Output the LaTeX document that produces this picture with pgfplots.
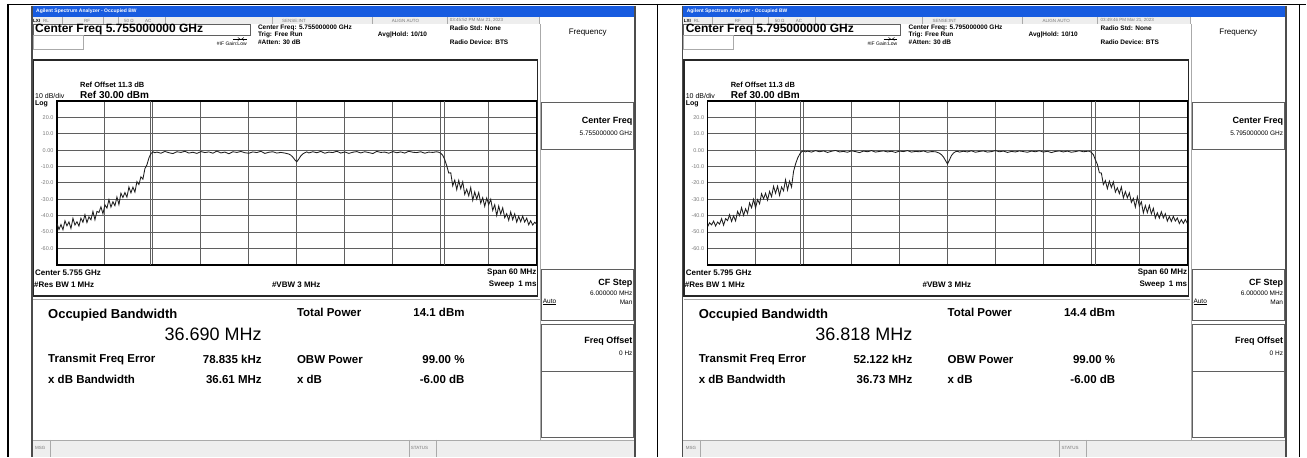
\documentclass[border=0pt]{standalone}
\usepackage{pgfplots}
\pgfplotsset{compat=1.18}
\usepackage{pgfplotstable}
\usepackage{fontspec}
\setmainfont{Liberation Sans}

\definecolor{winblue}{RGB}{24,92,224}
\definecolor{panelgray}{RGB}{238,238,238}
\definecolor{sepgray}{RGB}{170,170,170}
\definecolor{txtgray}{RGB}{120,120,120}
\definecolor{gridc}{RGB}{95,95,95}
\definecolor{tracec}{RGB}{30,30,30}

\newcommand{\fs}[1]{\fontsize{#1}{#1}\selectfont}

% f = offset from centre (MHz), L = 5.755 GHz trace, R = 5.795 GHz trace (dBm)
\pgfplotstableread{
f L R
-30.00 -44.7 -46.7
-29.75 -48.4 -44.3
-29.50 -45.4 -45.6
-29.25 -48.6 -43.3
-29.00 -43.1 -46.3
-28.75 -46.2 -43.9
-28.50 -43.8 -45.1
-28.25 -47.8 -41.8
-28.00 -41.6 -45.8
-27.75 -45.7 -41.8
-27.50 -43.7 -43.0
-27.25 -46.3 -39.4
-27.00 -41.5 -43.5
-26.75 -44.0 -40.1
-26.50 -39.4 -43.2
-26.25 -44.2 -37.4
-26.00 -40.7 -40.0
-25.75 -42.5 -35.1
-25.50 -37.4 -39.8
-25.25 -42.5 -35.8
-25.00 -37.4 -38.6
-24.75 -38.0 -32.2
-24.50 -34.6 -35.2
-24.25 -38.8 -30.0
-24.00 -33.4 -35.3
-23.75 -35.4 -30.2
-23.50 -30.2 -32.7
-23.25 -34.8 -26.6
-23.00 -31.5 -29.7
-22.75 -33.9 -26.3
-22.50 -28.6 -30.5
-22.25 -33.2 -25.2
-22.00 -26.3 -28.4
-21.75 -28.9 -22.1
-21.50 -25.9 -26.3
-21.25 -28.7 -22.0
-21.00 -22.5 -27.6
-20.75 -26.1 -22.5
-20.50 -22.6 -24.8
-20.25 -25.6 -18.1
-20.00 -19.2 -24.3
-19.75 -21.0 -18.9
-19.50 -16.3 -22.5
-19.25 -17.7 -13.0
-19.00 -11.3 -8.5
-18.75 -9.0 -5.0
-18.50 -4.8 -2.6
-18.25 -2.2 -1.0
-18.00 -1.0 -0.4
-17.75 -1.6 -1.1
-17.5 -1.2 -0.6
-17.0 -1.9 -1.2
-16.5 -0.8 -0.3
-16.0 -1.6 -1.0
-15.5 -2.1 -0.5
-15.0 -1.0 -1.4
-14.5 -1.4 -0.7
-14.0 -0.7 -0.2
-13.5 -1.8 -1.1
-13.0 -1.3 -0.8
-12.5 -2.0 -1.3
-12.0 -0.9 -0.4
-11.5 -1.5 -0.9
-11.0 -1.1 -1.5
-10.5 -1.9 -0.6
-10.0 -0.6 -1.0
-9.5 -1.7 -0.3
-9.0 -1.2 -1.2
-8.5 -2.2 -0.8
-8.0 -1.0 -0.5
-7.5 -1.4 -1.1
-7.0 -0.8 -0.7
-6.5 -1.6 -1.4
-6.0 -1.9 -0.6
-5.5 -1.1 -0.9
-5.0 -1.5 -0.3
-4.5 -0.7 -1.2
-4.0 -2.0 -0.8
-3.5 -1.3 -1.0
-3.0 -1.0 -0.5
-2.5 -1.8 -1.3
-2.0 -1.4 -0.9
-1.50 -1.8 -1.0
-1.25 -2.1 -1.4
-1.00 -2.4 -1.9
-0.75 -3.1 -2.8
-0.50 -4.3 -4.2
-0.25 -5.9 -6.3
0.00 -7.1 -8.4
0.25 -5.4 -6.0
0.50 -3.5 -3.3
0.75 -2.3 -1.8
1.00 -1.6 -1.0
1.25 -1.1 -0.7
1.50 -1.7 -1.2
2.0 -1.0 -0.7
2.5 -1.6 -1.1
3.0 -0.8 -0.4
3.5 -1.9 -1.3
4.0 -1.2 -0.8
4.5 -1.5 -0.5
5.0 -0.7 -1.2
5.5 -1.8 -0.9
6.0 -1.1 -0.3
6.5 -2.0 -1.0
7.0 -1.3 -0.6
7.5 -0.9 -1.4
8.0 -1.7 -0.8
8.5 -1.0 -1.1
9.0 -1.5 -0.5
9.5 -2.1 -0.9
10.0 -0.8 -1.3
10.5 -1.4 -0.6
11.0 -1.2 -1.0
11.5 -1.9 -0.4
12.0 -0.9 -1.2
12.5 -1.6 -0.7
13.0 -1.1 -1.5
13.5 -1.8 -0.8
14.0 -0.7 -0.5
14.5 -1.3 -1.1
15.0 -1.5 -0.6
15.5 -1.0 -1.3
16.0 -1.9 -0.9
16.5 -1.2 -0.4
17.0 -1.4 -1.0
17.5 -1.0 -0.7
17.75 -1.3 -0.7
18.00 -1.9 -1.4
18.25 -3.2 -2.8
18.50 -5.8 -5.9
18.75 -9.5 -8.7
19.00 -14.0 -13.8
19.25 -13.8 -14.0
19.50 -21.8 -21.0
19.75 -18.3 -18.6
20.00 -24.1 -23.5
20.25 -18.5 -18.9
20.50 -23.5 -22.8
20.75 -19.3 -19.4
21.00 -27.0 -25.6
21.25 -23.9 -23.0
21.50 -27.9 -26.5
21.75 -22.8 -22.5
22.00 -30.7 -29.2
22.25 -25.5 -25.3
22.50 -29.9 -29.1
22.75 -25.9 -26.1
23.00 -32.4 -31.9
23.25 -29.0 -29.4
23.50 -34.3 -34.8
23.75 -29.2 -28.5
24.00 -33.3 -34.2
24.25 -30.0 -31.6
24.50 -36.8 -38.3
24.75 -33.3 -33.8
25.00 -39.9 -38.1
25.25 -34.1 -33.7
25.50 -39.0 -38.9
25.75 -35.2 -35.5
26.00 -41.2 -41.5
26.25 -38.8 -38.2
26.50 -42.8 -41.5
26.75 -37.7 -37.6
27.00 -42.4 -41.4
27.25 -38.9 -38.8
27.50 -43.9 -43.3
27.75 -40.4 -40.5
28.00 -43.7 -43.5
28.25 -40.2 -40.4
28.50 -43.9 -43.3
28.75 -41.5 -41.4
29.00 -45.5 -44.8
29.25 -43.1 -42.4
29.50 -45.7 -44.7
29.75 -44.0 -42.3
30.00 -45.3 -44.7
}\spectra

% one analyzer screen
% #1 x offset, #2 centre freq, #3 short centre, #4 time, #5 total power,
% #6 OBW, #7 freq error, #8 x dB BW, #9 trace column; markers in \mkA \mkB
\newcommand{\analyzer}[9]{%
\begin{scope}[x=1pt,y=-1pt,shift={(#1,0)}]
  \fill[white] (31,6) rectangle (636,457);
  \fill[winblue] (31,6) rectangle (636,17);
  \node[anchor=west,inner sep=0,text=white,font=\fs{5}\bfseries] at (36,11.5) {Agilent Spectrum Analyzer - Occupied BW};
  % status row
  \fill[panelgray] (32,17) rectangle (540,24);
  \foreach \sx in {62,103,118,165,272,372,447,540} \draw[sepgray,line width=0.4pt] (\sx,17) -- (\sx,24);
  \begin{scope}[every node/.style={anchor=west,inner sep=0,text=txtgray,font=\fs{4.5}}]
    \node[text=black,font=\fs{4.5}\bfseries] at (33,20.5) {LXI};
    \node at (43,20.5) {RL};
    \node at (84,20.5) {RF};
    \node at (124,20.5) {50 Ω};
    \node at (145,20.5) {AC};
    \node at (282,20.5) {SENSE:INT};
    \node at (392,20.5) {ALIGN AUTO};
    \node at (450,20.5) {#4 PM Mar 21, 2023};
  \end{scope}
  % header
  \draw[gridc,line width=0.6pt] (33,24) rectangle (250,35);
  \draw[sepgray,line width=0.6pt] (33,35) rectangle (83,49);
  \node[anchor=west,inner sep=0,font=\fs{12}\bfseries] at (35,29.8) {Center Freq #2 GHz};
  \draw[black,line width=0.5pt] (233,39) -- (247,39);
  \draw[black,line width=0.5pt] (238,37.5) -- (240,39) -- (238,40.5);
  \draw[black,line width=0.5pt] (244,37.5) -- (242,39) -- (244,40.5);
  \node[anchor=east,inner sep=0,font=\fs{5}] at (247,44) {\#IF Gain:Low};
  \begin{scope}[every node/.style={anchor=west,inner sep=0,font=\fs{6.5}\bfseries}]
    \node at (258,28) {Center Freq: #2 GHz};
    \node at (258,35) {Trig: Free Run};
    \node at (258,42) {\#Atten: 30 dB};
    \node at (378,35) {Avg|Hold: 10/10};
    \node at (450,28) {Radio Std: None};
    \node at (450,42) {Radio Device: BTS};
  \end{scope}
  % graph frame
  \draw[black!85,line width=1.6pt] (33.5,60) rectangle (538,296);
  \node[anchor=west,inner sep=0,font=\fs{7.5}\bfseries] at (80,85) {Ref Offset 11.3 dB};
  \node[anchor=west,inner sep=0,font=\fs{10}\bfseries] at (80,94.5) {Ref 30.00 dBm};
  \node[anchor=west,inner sep=0,font=\fs{7}] at (35,96) {10 dB/div};
  \node[anchor=west,inner sep=0,font=\fs{7}\bfseries] at (35,103.5) {Log};
  \begin{scope}[every node/.style={inner sep=0,font=\fs{8}\bfseries}]
    \node[anchor=west] at (35,273) {Center #3 GHz};
    \node[anchor=east] at (537,273) {Span 60 MHz};
    \node[anchor=west] at (34,285) {\#Res BW 1 MHz};
    \node[anchor=west] at (272,285) {\#VBW 3 MHz};
    \node[anchor=east] at (537,285) {Sweep\enspace 1 ms};
  \end{scope}
  % results
  \draw[sepgray,line width=0.5pt] (33,299) -- (540,299);
  \node[anchor=west,inner sep=0,font=\fs{13}\bfseries] at (48,315) {Occupied Bandwidth};
  \node[anchor=east,inner sep=0,font=\fs{18}] at (262,334) {#6 MHz};
  \begin{scope}[every node/.style={inner sep=0,font=\fs{11.5}\bfseries}]
    \node[anchor=west] at (297,313) {Total Power};
    \node[anchor=east] at (465,313) {#5 dBm};
    \node[anchor=west] at (48,360) {Transmit Freq Error};
    \node[anchor=east] at (262,360) {#7 kHz};
    \node[anchor=west] at (297,360) {OBW Power};
    \node[anchor=east] at (465,360) {99.00 \%};
    \node[anchor=west] at (48,380) {x dB Bandwidth};
    \node[anchor=east] at (262,380) {#8 MHz};
    \node[anchor=west] at (297,380) {x dB};
    \node[anchor=east] at (465,380) {-6.00 dB};
  \end{scope}
  % soft keys
  \draw[sepgray,line width=0.8pt] (541,24) -- (541,440);
  \node[inner sep=0,font=\fs{8}] at (588,33) {Frequency};
  \draw[gridc,line width=0.8pt] (542,102) rectangle (634,149);
  \draw[gridc,line width=0.8pt] (542,270) rectangle (634,321);
  \draw[gridc,line width=0.8pt] (542,325) rectangle (634,372);
  \draw[gridc,line width=0.8pt] (542,372) rectangle (634,438);
  \begin{scope}[every node/.style={anchor=east,inner sep=0}]
    \node[font=\fs{9}\bfseries] at (633,121) {Center Freq};
    \node[font=\fs{6.5}] at (633,133) {#2 GHz};
    \node[font=\fs{9}\bfseries] at (633,283) {CF Step};
    \node[font=\fs{6.5}] at (633,293) {6.000000 MHz};
    \node[font=\fs{6.5}] at (633,302) {Man};
    \node[anchor=west,font=\fs{6.5}] at (543,302) {\underline{Auto}};
    \node[font=\fs{9}\bfseries] at (633,341) {Freq Offset};
    \node[font=\fs{6.5}] at (633,353) {0 Hz};
  \end{scope}
  % message bar
  \fill[panelgray] (32,440) rectangle (636,457);
  \draw[sepgray,line width=0.5pt] (32,440) -- (636,440);
  \draw[sepgray,line width=0.5pt] (50,440) -- (50,457);
  \draw[sepgray,line width=0.5pt] (409,440) -- (409,457);
  \draw[sepgray,line width=0.5pt] (436,440) -- (436,457);
  \node[anchor=west,inner sep=0,text=txtgray,font=\fs{4.5}] at (35,448) {MSG};
  \node[anchor=west,inner sep=0,text=txtgray,font=\fs{4.5}] at (411,448) {STATUS};
  % window edges
  \draw[black!70,line width=1.5pt] (32,6) -- (32,457);
  \draw[black!70,line width=1.5pt] (635.5,6) -- (635.5,457);
\end{scope}
\begin{axis}[
    at={(#1pt+57pt,-101pt)}, anchor=north west,
    scale only axis, width=480pt, height=164pt,
    xmin=-30, xmax=30, ymin=-70, ymax=30,
    xtick={-24,-18,...,24}, xticklabels={},
    ytick={-60,-50,...,20},
    yticklabels={-60.0,-50.0,-40.0,-30.0,-20.0,-10.0,0.00,10.0,20.0},
    yticklabel style={font=\fs{5.5}, text=txtgray},
    major tick length=0pt,
    grid=major,
    major grid style={gridc, line width=0.9pt},
    axis line style={black, line width=1.4pt},
]
\addplot[gridc, line width=0.9pt] coordinates {(\mkA,30) (\mkA,-70)};
\addplot[gridc, line width=0.9pt] coordinates {(\mkB,30) (\mkB,-70)};
\addplot[tracec, line width=0.85pt] table[x=f, y=#9] {\spectra};
\end{axis}}

\begin{document}
\begin{tikzpicture}
\begin{scope}[x=1pt,y=-1pt]
  \useasboundingbox (0,0) rectangle (1307,457);
  \fill[white] (0,0) rectangle (1307,457);
\end{scope}
\def\mkA{-18.27}\def\mkB{18.42}
\analyzer{0}{5.755000000}{5.755}{03:45:52}{14.1}{36.690}{78.835}{36.61}{L}
\def\mkA{-18.36}\def\mkB{18.46}
\analyzer{651}{5.795000000}{5.795}{03:49:46}{14.4}{36.818}{52.122}{36.73}{R}
\begin{scope}[x=1pt,y=-1pt]
  \draw[black, line width=1.5pt] (8,4.5) -- (1307,4.5);
  \draw[black, line width=1.5pt] (8,4) -- (8,457);
  \draw[black, line width=1.5pt] (658,4) -- (658,457);
  \draw[black, line width=1.5pt] (1300,4) -- (1300,457);
\end{scope}
\end{tikzpicture}
\end{document}
